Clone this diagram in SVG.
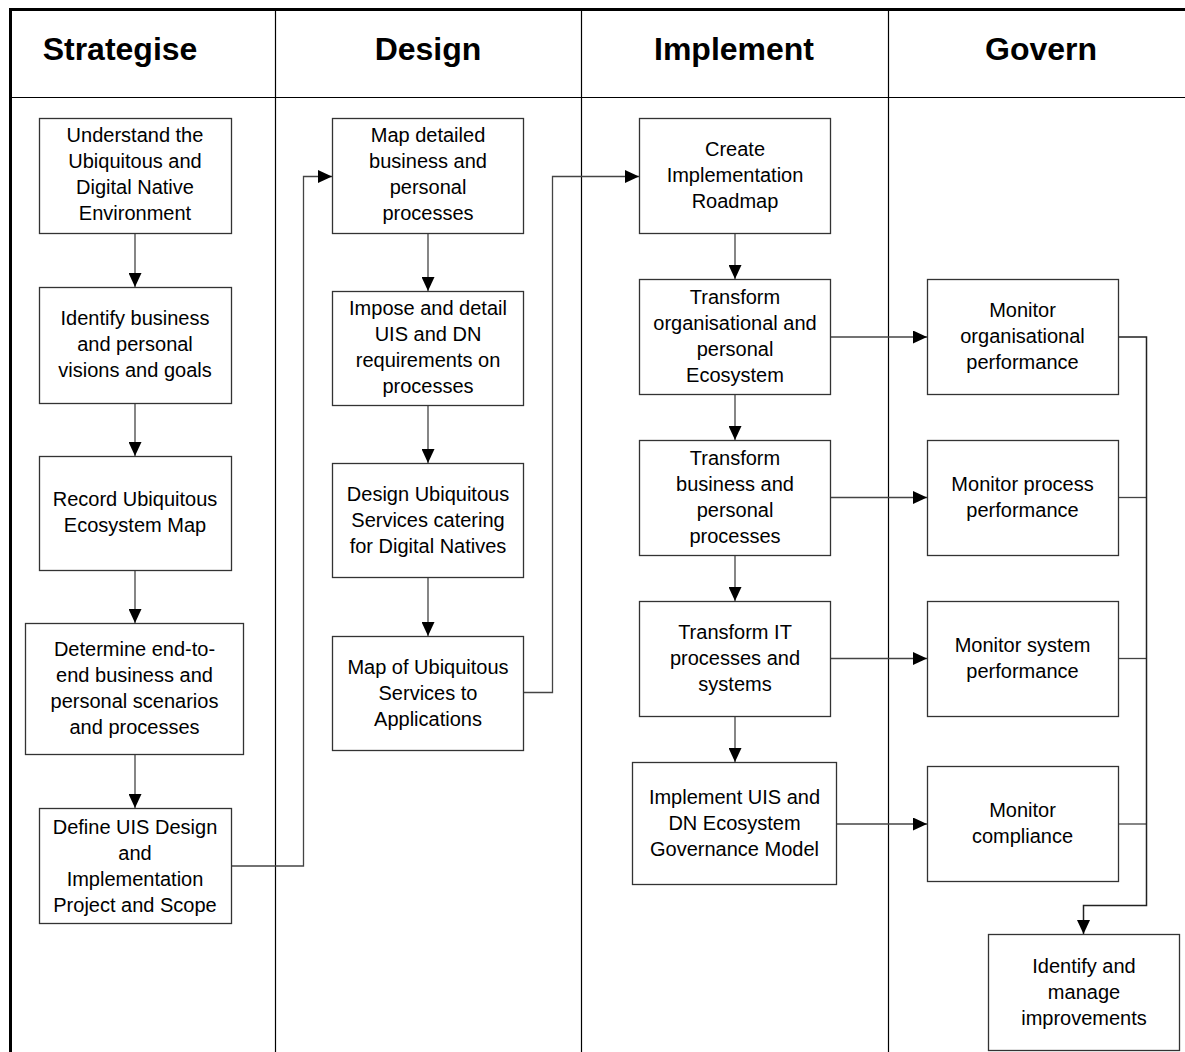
<svg xmlns="http://www.w3.org/2000/svg" width="1185" height="1052" viewBox="0 0 1185 1052">
  <style>
    .lane { stroke: #000; stroke-width: 1.2; fill: none; }
    .frame { stroke: #000; stroke-width: 3; fill: none; }
    .head { font-family: "Liberation Sans", Arial, sans-serif; font-size: 32px; font-weight: bold; fill: #000; text-anchor: middle; }
    .box rect { fill: #fff; stroke: #333; stroke-width: 1.3; }
    .box text { font-family: "Liberation Sans", Arial, sans-serif; font-size: 20px; fill: #000; text-anchor: middle; }
    .conn path { fill: none; stroke: #444; stroke-width: 1.3; }
    .conn .dark { stroke: #222; stroke-width: 1.5; }
  </style>
  <defs>
    <marker id="arrow" markerUnits="userSpaceOnUse" markerWidth="15" markerHeight="13" refX="14" refY="6.5" orient="auto">
      <path d="M0,0 L14,6.5 L0,13 z" fill="#000"/>
    </marker>
  </defs>

  <rect width="1185" height="1052" fill="#fff"/>

  <!-- swimlane frame -->
  <g id="lanes">
    <line class="frame" x1="10.5" y1="9.5" x2="1185" y2="9.5"/>
    <line class="frame" x1="10.5" y1="8" x2="10.5" y2="1052"/>
    <line class="lane" x1="10" y1="97.5" x2="1185" y2="97.5"/>
    <line class="lane" x1="275.5" y1="10" x2="275.5" y2="1052"/>
    <line class="lane" x1="581.5" y1="10" x2="581.5" y2="1052"/>
    <line class="lane" x1="888.5" y1="10" x2="888.5" y2="1052"/>
    <text class="head" x="120" y="60">Strategise</text>
    <text class="head" x="428" y="60">Design</text>
    <text class="head" x="734" y="60">Implement</text>
    <text class="head" x="1041" y="60">Govern</text>
  </g>

  <!-- connectors -->
  <g id="connectors" class="conn">
    <path d="M135,233 V287" marker-end="url(#arrow)"/>
    <path d="M135,403 V456" marker-end="url(#arrow)"/>
    <path d="M135,570 V623" marker-end="url(#arrow)"/>
    <path d="M135,754 V808" marker-end="url(#arrow)"/>
    <path d="M231,866 H303.5 V176.5 H332" marker-end="url(#arrow)"/>

    <path d="M428,233 V291" marker-end="url(#arrow)"/>
    <path d="M428,405 V463" marker-end="url(#arrow)"/>
    <path d="M428,577 V636" marker-end="url(#arrow)"/>
    <path d="M523,692.5 H552.5 V176.5 H639" marker-end="url(#arrow)"/>

    <path d="M735,233 V279" marker-end="url(#arrow)"/>
    <path d="M735,394 V440" marker-end="url(#arrow)"/>
    <path d="M735,555 V601" marker-end="url(#arrow)"/>
    <path d="M735,716 V762" marker-end="url(#arrow)"/>

    <path d="M831,337 H927" marker-end="url(#arrow)"/>
    <path d="M831,497.5 H927" marker-end="url(#arrow)"/>
    <path d="M831,658.5 H927" marker-end="url(#arrow)"/>
    <path d="M837,824 H927" marker-end="url(#arrow)"/>

    <path d="M1118,497.5 H1146.5"/>
    <path d="M1118,658.5 H1146.5"/>
    <path d="M1118,824 H1146.5"/>
    <path class="dark" d="M1118,337 H1146.5 V905.5 H1083.5 V934" marker-end="url(#arrow)"/>
  </g>

  <!-- Strategise -->
  <g id="understand" class="box">
    <rect x="39.5" y="118.5" width="192" height="115"/>
    <text x="135" y="142">Understand the</text>
    <text x="135" y="168">Ubiquitous and</text>
    <text x="135" y="194">Digital Native</text>
    <text x="135" y="220">Environment</text>
  </g>
  <g id="identify-goals" class="box">
    <rect x="39.5" y="287.5" width="192" height="116"/>
    <text x="135" y="325">Identify business</text>
    <text x="135" y="351">and personal</text>
    <text x="135" y="377">visions and goals</text>
  </g>
  <g id="record-map" class="box">
    <rect x="39.5" y="456.5" width="192" height="114"/>
    <text x="135" y="506">Record Ubiquitous</text>
    <text x="135" y="532">Ecosystem Map</text>
  </g>
  <g id="determine-scenarios" class="box">
    <rect x="25.5" y="623.5" width="218" height="131"/>
    <text x="134.5" y="656">Determine end-to-</text>
    <text x="134.5" y="682">end business and</text>
    <text x="134.5" y="708">personal scenarios</text>
    <text x="134.5" y="734">and processes</text>
  </g>
  <g id="define-project" class="box">
    <rect x="39.5" y="808.5" width="192" height="115"/>
    <text x="135" y="834">Define UIS Design</text>
    <text x="135" y="860">and</text>
    <text x="135" y="886">Implementation</text>
    <text x="135" y="912">Project and Scope</text>
  </g>

  <!-- Design -->
  <g id="map-processes" class="box">
    <rect x="332.5" y="118.5" width="191" height="115"/>
    <text x="428" y="142">Map detailed</text>
    <text x="428" y="168">business and</text>
    <text x="428" y="194">personal</text>
    <text x="428" y="220">processes</text>
  </g>
  <g id="impose-requirements" class="box">
    <rect x="332.5" y="291.5" width="191" height="114"/>
    <text x="428" y="315">Impose and detail</text>
    <text x="428" y="341">UIS and DN</text>
    <text x="428" y="367">requirements on</text>
    <text x="428" y="393">processes</text>
  </g>
  <g id="design-services" class="box">
    <rect x="332.5" y="463.5" width="191" height="114"/>
    <text x="428" y="501">Design Ubiquitous</text>
    <text x="428" y="527">Services catering</text>
    <text x="428" y="553">for Digital Natives</text>
  </g>
  <g id="map-services" class="box">
    <rect x="332.5" y="636.5" width="191" height="114"/>
    <text x="428" y="674">Map of Ubiquitous</text>
    <text x="428" y="700">Services to</text>
    <text x="428" y="726">Applications</text>
  </g>

  <!-- Implement -->
  <g id="roadmap" class="box">
    <rect x="639.5" y="118.5" width="191" height="115"/>
    <text x="735" y="156">Create</text>
    <text x="735" y="182">Implementation</text>
    <text x="735" y="208">Roadmap</text>
  </g>
  <g id="transform-ecosystem" class="box">
    <rect x="639.5" y="279.5" width="191" height="115"/>
    <text x="735" y="304">Transform</text>
    <text x="735" y="330">organisational and</text>
    <text x="735" y="356">personal</text>
    <text x="735" y="382">Ecosystem</text>
  </g>
  <g id="transform-processes" class="box">
    <rect x="639.5" y="440.5" width="191" height="115"/>
    <text x="735" y="465">Transform</text>
    <text x="735" y="491">business and</text>
    <text x="735" y="517">personal</text>
    <text x="735" y="543">processes</text>
  </g>
  <g id="transform-it" class="box">
    <rect x="639.5" y="601.5" width="191" height="115"/>
    <text x="735" y="639">Transform IT</text>
    <text x="735" y="665">processes and</text>
    <text x="735" y="691">systems</text>
  </g>
  <g id="governance-model" class="box">
    <rect x="632.5" y="762.5" width="204" height="122"/>
    <text x="734.5" y="804">Implement UIS and</text>
    <text x="734.5" y="830">DN Ecosystem</text>
    <text x="734.5" y="856">Governance Model</text>
  </g>

  <!-- Govern -->
  <g id="monitor-organisational" class="box">
    <rect x="927.5" y="279.5" width="191" height="115"/>
    <text x="1022.5" y="317">Monitor</text>
    <text x="1022.5" y="343">organisational</text>
    <text x="1022.5" y="369">performance</text>
  </g>
  <g id="monitor-process" class="box">
    <rect x="927.5" y="440.5" width="191" height="115"/>
    <text x="1022.5" y="491">Monitor process</text>
    <text x="1022.5" y="517">performance</text>
  </g>
  <g id="monitor-system" class="box">
    <rect x="927.5" y="601.5" width="191" height="115"/>
    <text x="1022.5" y="652">Monitor system</text>
    <text x="1022.5" y="678">performance</text>
  </g>
  <g id="monitor-compliance" class="box">
    <rect x="927.5" y="766.5" width="191" height="115"/>
    <text x="1022.5" y="817">Monitor</text>
    <text x="1022.5" y="843">compliance</text>
  </g>
  <g id="improvements" class="box">
    <rect x="988.5" y="934.5" width="191" height="116"/>
    <text x="1084" y="973">Identify and</text>
    <text x="1084" y="999">manage</text>
    <text x="1084" y="1025">improvements</text>
  </g>
</svg>
